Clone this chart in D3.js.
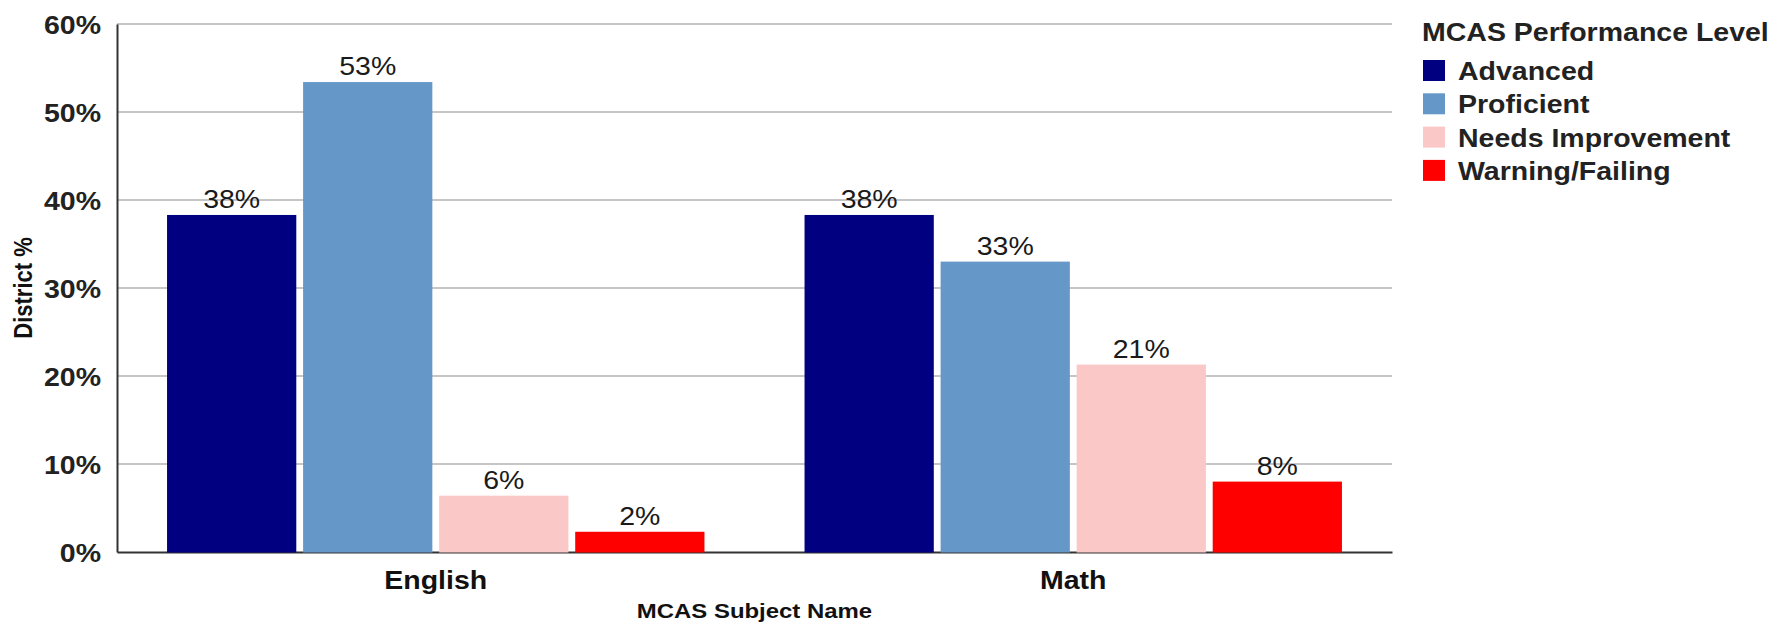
<!DOCTYPE html>
<html>
<head>
<meta charset="utf-8">
<script src="https://cdn.jsdelivr.net/npm/d3@7"></script>
<style>
  html, body { margin: 0; padding: 0; background: #fff; }
  svg { display: block; }
  text { font-family: "Liberation Sans", Arial, sans-serif; }
</style>
</head>
<body>
<svg id="chart" width="1787" height="625"></svg>
<script>
// ---- data ----
const categories = ["English", "Math"];
const seriesNames = ["Advanced", "Proficient", "Needs Improvement", "Warning/Failing"];
const advanced = [38.3, 38.3];
const proficient = [53.4, 33.0];
const needsImprovement = [6.4, 21.3];
const warningFailing = [2.3, 8.0];
const yTicks = [0, 10, 20, 30, 40, 50, 60];
const colors = ["#000080", "#6598c9", "#fbc8c8", "#ff0000"];

const seriesValues = [advanced, proficient, needsImprovement, warningFailing];
const rows = [];
categories.forEach((c, ci) => {
  seriesNames.forEach((s, si) => rows.push({ cat: c, series: s, value: seriesValues[si][ci], si }));
});

// ---- layout ----
const SX = 1.14; // horizontal text stretch
const pLeft = 117, pRight = 1392, pTop = 24, pBottom = 552;
const svg = d3.select("#chart");

const y = d3.scaleLinear().domain([0, 60]).range([pBottom, pTop]);
const x0 = d3.scaleBand().domain(categories).range([pLeft, pRight]).paddingInner(0).paddingOuter(0);
const bw = x0.bandwidth();
const x1 = d3.scaleBand().domain(seriesNames).range([bw * 0.0785, bw * 0.9215]).paddingInner(0.05).paddingOuter(0);
const color = d3.scaleOrdinal().domain(seriesNames).range(colors);

function stretchText(sel) {
  sel.each(function () {
    const t = d3.select(this);
    const xx = +t.attr("x") || 0, yy = +t.attr("y") || 0;
    t.attr("x", 0).attr("y", 0).attr("transform", `translate(${xx},${yy}) scale(${SX},1)`);
  });
}

// gridlines
svg.append("g").selectAll("line").data(yTicks.filter(d => d > 0)).join("line")
  .attr("x1", pLeft).attr("x2", pRight)
  .attr("y1", d => y(d)).attr("y2", d => y(d))
  .attr("stroke", "#c6c6c6").attr("stroke-width", 2);

// y axis
const yAxis = svg.append("g").attr("transform", `translate(${pLeft},0)`)
  .call(d3.axisLeft(y).tickValues(yTicks).tickFormat(d => d + "%").tickSize(0).tickSizeOuter(0).tickPadding(14));
yAxis.select(".domain").attr("stroke", "#333").attr("stroke-width", 2);
yAxis.selectAll("text")
  .attr("font-size", 25).attr("font-weight", "bold").attr("fill", "#222")
  .attr("font-family", "Liberation Sans, Arial, sans-serif")
  .each(function () {
    const t = d3.select(this);
    t.attr("x", null).attr("dy", "0.36em").attr("transform", `translate(-16,0) scale(${SX},1)`);
  });

// x axis (drawn before bars so bars cover it)
const xAxis = svg.append("g").attr("transform", `translate(0,${pBottom})`)
  .call(d3.axisBottom(x0).tickSize(0).tickSizeOuter(0).tickPadding(19));
xAxis.select(".domain").attr("stroke", "#333").attr("stroke-width", 2);
xAxis.selectAll("text")
  .attr("font-size", 25).attr("font-weight", "bold").attr("fill", "#111")
  .attr("font-family", "Liberation Sans, Arial, sans-serif")
  .each(function () {
    const t = d3.select(this);
    const yy = +t.attr("y");
    t.attr("y", null).attr("transform", `translate(0,${yy}) scale(${SX},1)`);
  });

// bars
const gBars = svg.append("g");
gBars.selectAll("rect").data(rows).join("rect")
  .attr("x", d => x0(d.cat) + x1(d.series))
  .attr("y", d => y(d.value))
  .attr("width", x1.bandwidth())
  .attr("height", d => y(0) - y(d.value) + 0.5)
  .attr("fill", d => color(d.series));

// value labels
gBars.selectAll("text").data(rows).join("text")
  .attr("x", d => x0(d.cat) + x1(d.series) + x1.bandwidth() / 2)
  .attr("y", d => y(d.value) - 7)
  .attr("text-anchor", "middle")
  .attr("font-size", 25).attr("fill", "#1a1a1a")
  .text(d => Math.round(d.value) + "%")
  .call(stretchText);

// axis titles
svg.append("text")
  .attr("x", (pLeft + pRight) / 2).attr("y", 618)
  .attr("text-anchor", "middle").attr("font-size", 21).attr("font-weight", "bold").attr("fill", "#111")
  .text("MCAS Subject Name").call(stretchText);

svg.append("text")
  .attr("text-anchor", "middle").attr("font-size", 22).attr("font-weight", "bold").attr("fill", "#111")
  .attr("transform", `translate(32,${(pTop + pBottom) / 2}) rotate(-90) scale(1,${SX})`)
  .text("District %");

// legend
const lg = svg.append("g");
lg.append("text").attr("x", 1422).attr("y", 41)
  .attr("font-size", 25).attr("font-weight", "bold").attr("fill", "#222")
  .text("MCAS Performance Level").call(stretchText);
const items = lg.selectAll("g.item").data(seriesNames).join("g").attr("class", "item")
  .attr("transform", (d, i) => `translate(0,${80 + i * 33.3})`);
items.append("rect").attr("x", 1423).attr("y", -20).attr("width", 22).attr("height", 21)
  .attr("fill", d => color(d));
items.append("text").attr("x", 1458).attr("y", 0)
  .attr("font-size", 25).attr("font-weight", "bold").attr("fill", "#222")
  .text(d => d).call(stretchText);
</script>
</body>
</html>
